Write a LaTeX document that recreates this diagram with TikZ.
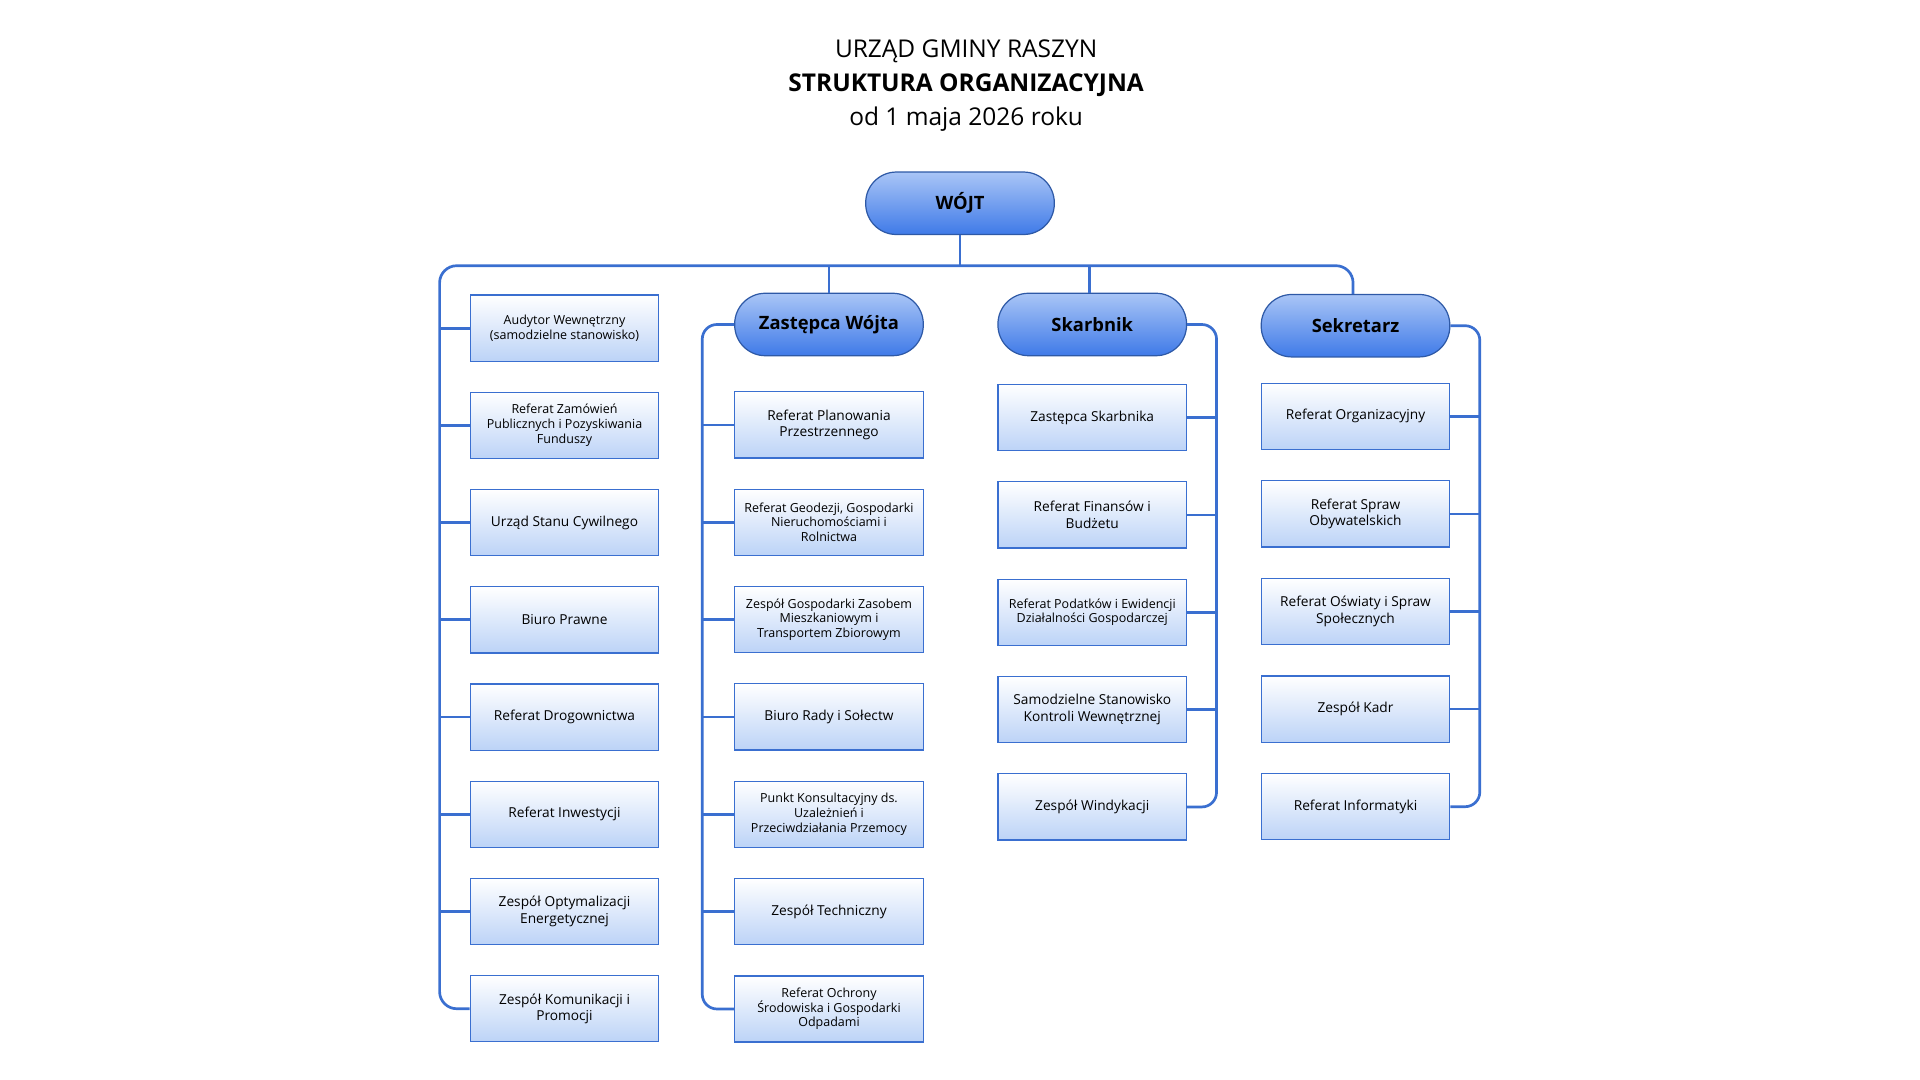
\documentclass[tikz,border=0pt]{standalone}
\usepackage{fontspec}
\setmainfont{Open Sans}
\usetikzlibrary{positioning}
\definecolor{lineblue}{HTML}{3A6FD0}
\definecolor{headtop}{HTML}{A9C5F6}
\definecolor{headbot}{HTML}{3F7AE8}
\definecolor{boxbot}{HTML}{BCD3F7}
\tikzset{
        % Connectors
        conn/.style={draw=lineblue, line width=2.2pt},
        % Heads (Wojt, deputies)
        head/.style={rounded corners=25pt, draw=lineblue!80!black, line width=1pt, top color=headtop, bottom color=headbot,
                minimum width=154pt, minimum height=51pt, font=\fontsize{15}{17}\selectfont\bfseries},
        % Units
        unit/.style={rectangle, draw=lineblue, line width=1pt, top color=white, bottom color=boxbot,
                minimum width=154pt, minimum height=54pt, align=center,
                font=\fontsize{11.2}{13.5}\selectfont},
        plain/.style={},
        % Units with three lines of text
        dense/.style={font=\fontsize{10.2}{12}\selectfont}
}
\begin{document}
\begin{tikzpicture}[x=1pt, y=-1pt]
    \useasboundingbox (0,0) rectangle (1568,882);
    % title
    \node[align=center, font=\fontsize{20}{28}\selectfont] (title) at (789,70)
        {URZĄD GMINY RASZYN\\\textbf{STRUKTURA ORGANIZACYJNA}\\od 1 maja 2026 roku};
    \node[head] (wojt) at (784,166) {WÓJT};
    \node[head] (zastepca) at (677,265) {Zastępca Wójta};
    \node[head] (skarbnik) at (892,265) {Skarbnik};
    \node[head] (sekretarz) at (1107,266) {Sekretarz};
    \coordinate (bus) at (784,217);
    % column 1
    \foreach \s/\t [count=\i, evaluate=\i as \y using 268+79.4*(\i-1)] in {
        dense/{Audytor Wewnętrzny\\(samodzielne stanowisko)},
        dense/{Referat Zamówień\\Publicznych i Pozyskiwania\\Funduszy},
        plain/Urząd Stanu Cywilnego, plain/Biuro Prawne, plain/Referat Drogownictwa,
        plain/Referat Inwestycji, plain/{Zespół Optymalizacji\\Energetycznej},
        plain/{Zespół Komunikacji i\\Promocji}}
        \node[unit,\s] (c1-\i) at (461,\y) {\t};
    % column 2
    \foreach \s/\t [count=\i, evaluate=\i as \y using 347+79.5*(\i-1)] in {
        plain/{Referat Planowania\\Przestrzennego},
        dense/{Referat Geodezji, Gospodarki\\Nieruchomościami i\\Rolnictwa},
        dense/{Zespół Gospodarki Zasobem\\Mieszkaniowym i\\Transportem Zbiorowym},
        plain/Biuro Rady i Sołectw,
        dense/{Punkt Konsultacyjny ds.\\Uzależnień i\\Przeciwdziałania Przemocy},
        plain/Zespół Techniczny,
        dense/{Referat Ochrony\\Środowiska i Gospodarki\\Odpadami}}
        \node[unit,\s] (c2-\i) at (677,\y) {\t};
    % column 3
    \foreach \s/\t [count=\i, evaluate=\i as \y using 341+79.5*(\i-1)] in {
        plain/Zastępca Skarbnika, plain/{Referat Finansów i\\Budżetu},
        dense/{Referat Podatków i Ewidencji\\Działalności Gospodarczej},
        plain/{Samodzielne Stanowisko\\Kontroli Wewnętrznej}, plain/Zespół Windykacji}
        \node[unit,\s] (c3-\i) at (892,\y) {\t};
    % column 4
    \foreach \s/\t [count=\i, evaluate=\i as \y using 340+79.7*(\i-1)] in {
        plain/Referat Organizacyjny, plain/{Referat Spraw\\Obywatelskich},
        plain/{Referat Oświaty i Spraw\\Społecznych}, plain/Zespół Kadr, plain/Referat Informatyki}
        \node[unit,\s] (c4-\i) at (1107,\y) {\t};
    % connectors
    \draw[conn] (wojt.south) -- (bus);
    \draw[conn, rounded corners=14pt] (c1-8.west) -| (359,217) -| (1105,240);
    \draw[conn] (zastepca.north) -- (zastepca.north |- bus);
    \draw[conn] (skarbnik.north -| 890,0) -- (890,217);
    \foreach \i in {1,...,7} \draw[conn] (c1-\i.west) -- ++(-25,0);
    \draw[conn, rounded corners=12pt] (zastepca.west) -- ++(-26,0) |- (c2-7.west);
    \foreach \i in {1,...,6} \draw[conn] (c2-\i.west) -- ++(-26,0);
    \draw[conn, rounded corners=12pt] (skarbnik.east) -- ++(24,0) |- (c3-5.east);
    \foreach \i in {1,...,4} \draw[conn] (c3-\i.east) -- ++(24,0);
    \draw[conn, rounded corners=12pt] (sekretarz.east) -- ++(24,0) |- (c4-5.east);
    \foreach \i in {1,...,4} \draw[conn] (c4-\i.east) -- ++(24,0);
\end{tikzpicture}
\end{document}
